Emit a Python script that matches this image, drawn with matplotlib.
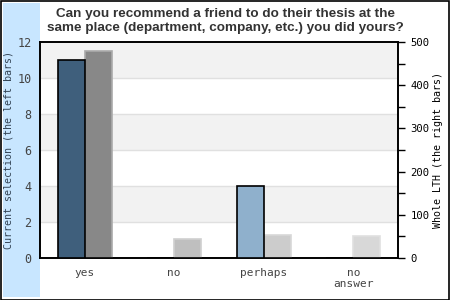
import matplotlib
matplotlib.use("Agg")
import matplotlib.pyplot as plt
from matplotlib.patches import Rectangle
import numpy as np

categories = ["yes", "no", "perhaps", "no\nanswer"]
current = [11, 0, 4, 0]
whole = [479, 44, 53, 50]
left_colors = ["#3f5f7c", "#3f5f7c", "#8fb0cc", "#8fb0cc"]
right_colors = ["#888888", "#bfbfbf", "#cccccc", "#d8d8d8"]
right_edges = ["#aaaaaa", "#d0d0d0", "#d8d8d8", "#e0e0e0"]
left_ticks = [0, 2, 4, 6, 8, 10, 12]
right_ticks = [0, 100, 200, 300, 400, 500]

W, H = 450, 300
fig = plt.figure(figsize=(W/100, H/100), dpi=100)
fig.patch.set_facecolor("white")

fig.add_artist(Rectangle((3/W, 3/H), 37/W, 294/H, transform=fig.transFigure,
                         facecolor="#c8e6ff", edgecolor="none", zorder=0))
fig.add_artist(Rectangle((0.5/W, 0.5/H), (W-1.5)/W, (H-1.5)/H, transform=fig.transFigure,
                         facecolor="none", edgecolor="black", lw=1.2, zorder=5))

x0, x1, y0, y1 = 40, 398, 42, 258
ax = fig.add_axes([x0/W, 1-y1/H, (x1-x0)/W, (y1-y0)/H])
ax2 = ax.twinx()

ax.set_xlim(0, 4)
ax.set_ylim(0, 12)
ax2.set_ylim(0, 500)

ax2.set_zorder(0)
ax.set_zorder(1)
ax.patch.set_visible(False)
ax2.patch.set_visible(True)
ax2.patch.set_facecolor("white")
for lo in [10, 6, 2]:
    ax2.add_patch(Rectangle((0, lo), 4, 2, transform=ax.transData,
                            facecolor="#f2f2f2", edgecolor="none", zorder=0))
for g in [2, 4, 6, 8, 10]:
    ax2.add_line(plt.Line2D([0, 4], [g, g], transform=ax.transData,
                            color="#e0e0e0", lw=1, zorder=0.5))

pos = np.arange(len(categories)) + 0.5
bw = 0.3
ax2.bar(pos + bw/2, whole, width=bw, color=right_colors, edgecolor=right_edges, lw=1.2, zorder=3)
ax.bar(pos - bw/2, current, width=bw, color=left_colors, edgecolor="black", lw=1.2, zorder=3)

mono = "DejaVu Sans Mono"
ax.set_xticks(pos)
ax.set_xticklabels(categories, family=mono, fontsize=8, color="#444444")
ax.tick_params(axis="x", length=0, pad=7)
ax.set_yticks(left_ticks)
ax.set_yticklabels([str(v) for v in left_ticks], family=mono, fontsize=8.5, color="#444444")
ax.tick_params(axis="y", length=0, pad=6)
ax.set_ylabel("Current selection (the left bars)", family=mono, fontsize=7.2, color="#334455",
              ha="center", va="center")
ax.yaxis.set_label_coords((9 - x0) / (x1 - x0), 0.5)

ax2.set_yticks(right_ticks)
ax2.set_yticks([50, 150, 250, 350, 450], minor=True)
ax2.set_yticklabels([str(v) for v in right_ticks], family=mono, fontsize=7.6, color="black")
ax2.tick_params(axis="y", which="major", length=5, width=1, pad=4)
ax2.tick_params(axis="y", which="minor", length=5, width=1)
ax2.set_ylabel("Whole LTH (the right bars)", family=mono, fontsize=7.2, color="black",
               ha="center", va="center")
ax2.yaxis.set_label_coords((438 - x0) / (x1 - x0), 0.5)

for a in (ax, ax2):
    for s in a.spines.values():
        s.set_color("black")
        s.set_linewidth(1.2)

fig.text(225/W, 1-21/H, "Can you recommend a friend to do their thesis at the\nsame place (department, company, etc.) you did yours?",
         ha="center", va="center", fontsize=9.7, fontweight="bold", family="Liberation Sans",
         color="#333333", linespacing=1.25)

fig.savefig("out.png", dpi=100)
